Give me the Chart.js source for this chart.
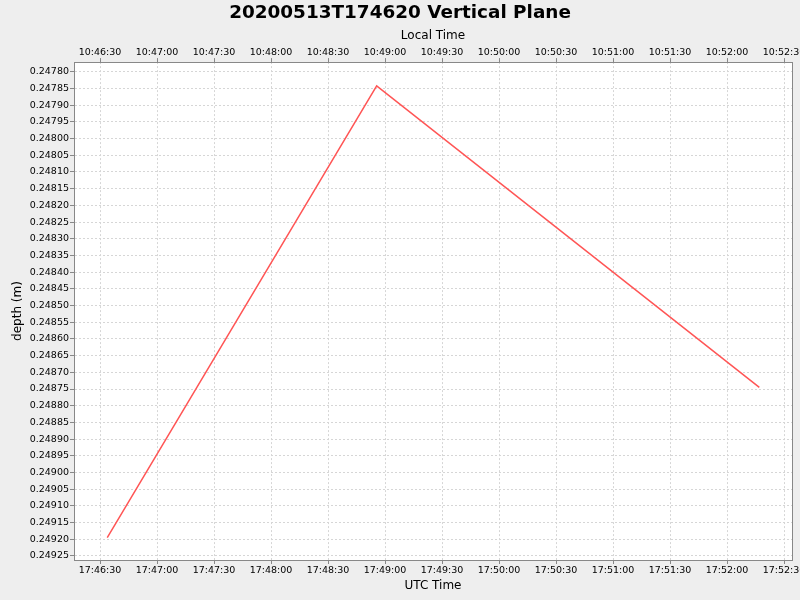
<!DOCTYPE html>
<html>
<head>
<meta charset="utf-8">
<script src="https://cdn.jsdelivr.net/npm/chart.js@4/dist/chart.umd.min.js"></script>
<style>
  html, body { margin: 0; padding: 0; background: #eeeeee; }
  #wrap { width: 800px; height: 600px; }
</style>
</head>
<body>
<div id="wrap"><canvas id="chart"></canvas></div>
<script>
// sample times (UTC) and depths
const utcTimes = ['17:46:33.8', '17:48:55.6', '17:52:17.0'];
const depths = [0.249195, 0.247842, 0.248745];

// axis ticks
const utcTicks = ['17:46:30', '17:47:00', '17:47:30', '17:48:00', '17:48:30', '17:49:00',
    '17:49:30', '17:50:00', '17:50:30', '17:51:00', '17:51:30', '17:52:00', '17:52:30'];
const localTicks = ['10:46:30', '10:47:00', '10:47:30', '10:48:00', '10:48:30', '10:49:00',
    '10:49:30', '10:50:00', '10:50:30', '10:51:00', '10:51:30', '10:52:00', '10:52:30'];
const localOffsetHours = -7;

const FONT = "'DejaVu Sans', sans-serif";
const TICK_SIZE = 9.5;

function toSec(t) {
    const p = t.split(':').map(Number);
    return p[0] * 3600 + p[1] * 60 + p[2];
}

function fmt(sec) {
    sec = ((Math.round(sec) % 86400) + 86400) % 86400;
    const h = String(Math.floor(sec / 3600)).padStart(2, '0');
    const m = String(Math.floor(sec / 60) % 60).padStart(2, '0');
    const s = String(sec % 60).padStart(2, '0');
    return `${h}:${m}:${s}`;
}

const xMin = toSec('17:46:16.3');
const xMax = toSec('17:52:34.2');

// white plot background + frame
const plotFrame = {
    id: 'plotFrame',
    beforeDraw(chart) {
        const {ctx, chartArea: a} = chart;
        ctx.save();
        ctx.fillStyle = '#ffffff';
        ctx.fillRect(a.left, a.top, a.right - a.left, a.bottom - a.top);
        ctx.restore();
    },
    afterDraw(chart) {
        const {ctx, chartArea: a} = chart;
        ctx.save();
        ctx.strokeStyle = '#888888';
        ctx.lineWidth = 1;
        ctx.strokeRect(Math.round(a.left) + 0.5, Math.round(a.top) + 0.5,
            Math.round(a.right - a.left), Math.round(a.bottom - a.top));
        ctx.restore();
    }
};

const gridOpts = {
    color: '#d6d6d6',
    lineWidth: 1,
    drawTicks: true,
    tickLength: 4,
    tickColor: '#888888',
    tickBorderDash: []
};
const borderOpts = { display: true, color: '#888888', dash: [2, 2] };

new Chart(document.getElementById('chart'), {
    type: 'line',
    data: {
        datasets: [{
            data: utcTimes.map((t, i) => ({x: toSec(t), y: depths[i]})),
            borderColor: '#ff5555',
            borderWidth: 1.5,
            pointRadius: 0,
            fill: false,
            tension: 0
        }]
    },
    plugins: [plotFrame],
    options: {
        responsive: true,
        maintainAspectRatio: false,
        animation: false,
        layout: { padding: 0 },
        plugins: {
            legend: { display: false },
            tooltip: { enabled: false },
            title: {
                display: true,
                text: '20200513T174620 Vertical Plane',
                color: '#000000',
                font: { family: FONT, size: 18.4, weight: 'bold' },
                padding: { top: 2, bottom: 5 }
            }
        },
        scales: {
            x: {
                type: 'linear',
                position: 'bottom',
                min: xMin,
                max: xMax,
                afterBuildTicks: scale => { scale.ticks = utcTicks.map(t => ({value: toSec(t)})); },
                afterFit: scale => { scale.height = 40; scale.paddingLeft = 0; scale.paddingRight = 0; },
                ticks: {
                    callback: v => fmt(v),
                    color: '#000000',
                    font: { family: FONT, size: TICK_SIZE },
                    padding: 1,
                    maxRotation: 0,
                    autoSkip: false
                },
                grid: gridOpts,
                border: borderOpts,
                title: {
                    display: true,
                    text: 'UTC Time',
                    color: '#000000',
                    font: { family: FONT, size: 12 },
                    padding: { top: 0, bottom: 7 }
                }
            },
            x2: {
                type: 'linear',
                position: 'top',
                min: xMin,
                max: xMax,
                afterBuildTicks: scale => {
                    scale.ticks = localTicks.map(t => ({value: toSec(t) - localOffsetHours * 3600}));
                },
                afterFit: scale => { scale.height = 33; scale.paddingLeft = 0; scale.paddingRight = 0; },
                ticks: {
                    callback: v => fmt(v + localOffsetHours * 3600),
                    color: '#000000',
                    font: { family: FONT, size: TICK_SIZE },
                    padding: 0,
                    maxRotation: 0,
                    autoSkip: false
                },
                grid: { display: true, drawOnChartArea: false, tickLength: 4, tickColor: '#888888' },
                border: { display: true, color: '#888888' },
                title: {
                    display: true,
                    text: 'Local Time',
                    color: '#000000',
                    font: { family: FONT, size: 12 },
                    padding: { top: 0, bottom: 0 }
                }
            },
            y: {
                type: 'linear',
                reverse: true,
                min: 0.247771,
                max: 0.249262,
                afterFit: scale => { scale.width = 74; scale.paddingTop = 0; scale.paddingBottom = 0; },
                ticks: {
                    stepSize: 0.00005,
                    includeBounds: false,
                    maxTicksLimit: 100,
                    callback: v => Number(v).toFixed(5),
                    color: '#000000',
                    font: { family: FONT, size: TICK_SIZE },
                    padding: 1
                },
                grid: gridOpts,
                border: borderOpts,
                title: {
                    display: true,
                    text: 'depth (m)',
                    color: '#000000',
                    font: { family: FONT, size: 12 },
                    padding: { top: 11, bottom: 0 }
                }
            },
            // empty right margin so the title stays centred on the page
            yRight: {
                type: 'linear',
                position: 'right',
                min: 0,
                max: 1,
                afterFit: scale => { scale.width = 8; scale.paddingTop = 0; scale.paddingBottom = 0; },
                ticks: { display: false },
                grid: { display: false, drawTicks: false },
                border: { display: false }
            }
        }
    }
});
</script>
</body>
</html>
